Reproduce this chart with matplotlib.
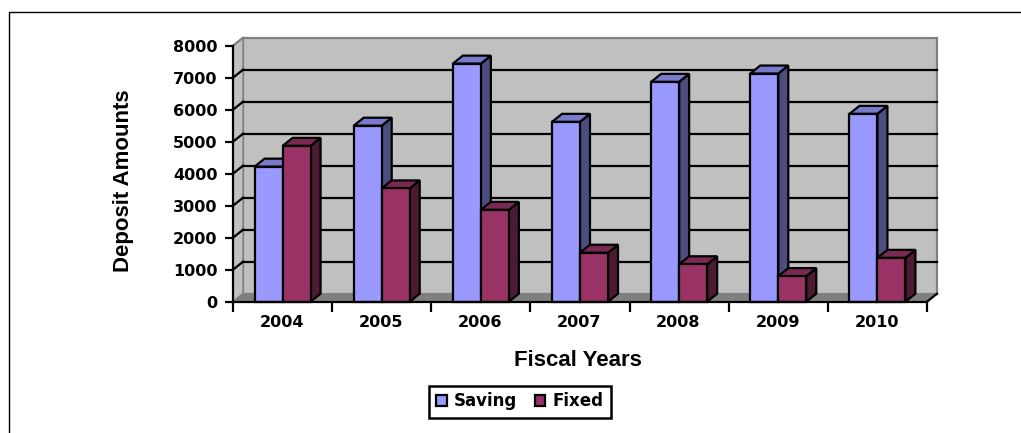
import matplotlib
matplotlib.use("Agg")
import matplotlib.pyplot as plt
from matplotlib.patches import Polygon, Rectangle
from matplotlib.lines import Line2D

years = ["2004", "2005", "2006", "2007", "2008", "2009", "2010"]
saving = [4220, 5500, 7440, 5620, 6870, 7130, 5870]
fixed = [4870, 3540, 2870, 1530, 1170, 800, 1370]
yticks = [0, 1000, 2000, 3000, 4000, 5000, 6000, 7000, 8000]

W, H = 1021, 433
plt.rcParams['font.family'] = ['Liberation Sans']
plt.rcParams['font.weight'] = 'bold'
fig = plt.figure(figsize=(W / 100, H / 100), dpi=100, facecolor='white')

# page frame: left and top edges only
fig.add_artist(Line2D([8.5 / W, 8.5 / W, 1], [0, 1 - 11.5 / H, 1 - 11.5 / H], color='black', lw=1.0))

L, R, T, B = 233, 927, 45.7, 301.7
ax = fig.add_axes([L / W, 1 - B / H, (R - L) / W, (B - T) / H])
n = len(years)
ax.set_xlim(-0.5, n - 0.5)
ax.set_ylim(0, 8000)
ax.patch.set_visible(False)
for s in ('top', 'right'):
    ax.spines[s].set_visible(False)
for s in ('left', 'bottom'):
    ax.spines[s].set_linewidth(1.6)
    ax.spines[s].set_zorder(6)

xpx = n / (R - L)
ypx = 8000 / (B - T)
dx, dy = 10 * xpx, 8 * ypx
wall_xr = n - 0.5
x0 = -0.5
LW = 1.6


def add(poly, fc, ec='black', lw=LW, z=2):
    ax.add_patch(Polygon(poly, closed=True, fc=fc, ec=ec, lw=lw, zorder=z, clip_on=False, joinstyle='miter'))


# back wall, left wall, floor
add([(x0 + dx, dy), (wall_xr + dx, dy), (wall_xr + dx, 8000 + dy), (x0 + dx, 8000 + dy)], '#C0C0C0', '#808080', 1.6, 1)
add([(x0, 0), (x0 + dx, dy), (x0 + dx, 8000 + dy), (x0, 8000)], '#C0C0C0', '#808080', 1.0, 1)
add([(x0, 0), (wall_xr, 0), (wall_xr + dx, dy), (x0 + dx, dy)], '#808080', '#808080', 0.8, 1.1)

# gridlines on the wall, with the diagonal joins at the front
for t in yticks[1:-1]:
    ax.plot([x0 + dx, wall_xr + dx], [t + dy, t + dy], color='black', lw=LW, zorder=1.5, clip_on=False)
for t in yticks[1:-1]:
    ax.plot([x0, x0 + dx], [t, t + dy], color='black', lw=LW, zorder=1.5, clip_on=False)
ax.plot([x0, x0 + dx], [8000, 8000 + dy], color='#808080', lw=LW, zorder=1.5, clip_on=False)
ax.plot([wall_xr, wall_xr + dx], [0, dy], color='black', lw=LW, zorder=1.6, clip_on=False)
ax.plot([x0, x0 + dx], [0, dy], color='#808080', lw=1.0, zorder=1.6, clip_on=False)

bw = 28 / (R - L) * n


def bar3d(xl, v, front, top, side, z=3):
    xr = xl + bw
    add([(xr, 0), (xr + dx, dy), (xr + dx, v + dy), (xr, v)], side, z=z)
    add([(xl, v), (xr, v), (xr + dx, v + dy), (xl + dx, v + dy)], top, z=z)
    ax.bar(xl, v, width=bw, align='edge', color=front, edgecolor='black', linewidth=LW, zorder=z + 0.05, clip_on=False)


for i in range(n):
    bar3d(i - bw, saving[i], '#9999FF', '#7A7ACC', '#4D4D80', z=3 + i * 0.1)
for i in range(n):
    bar3d(i, fixed[i], '#993366', '#7A2952', '#4D1A33', z=4 + i * 0.1)

ax.set_yticks(yticks)
ax.set_yticklabels([str(t) for t in yticks], fontsize=11.5, fontweight='bold', family='DejaVu Sans')
ax.set_xticks([i - 0.5 for i in range(n + 1)])
ax.set_xticklabels([""] * (n + 1))
ax.tick_params(axis='both', length=6, width=1.6, color='black')
ax.tick_params(axis='x', pad=4, length=7)
ax.tick_params(axis='y', pad=5)
for i, yr in enumerate(years):
    ax.annotate(yr, (i, 0), xytext=(-0.5, -15), textcoords='offset points', ha='center', va='center',
                fontsize=11.5, fontweight='bold', family='DejaVu Sans', annotation_clip=False)

fig.text(578 / W, 1 - 361 / H, "Fiscal Years", ha='center', va='center', fontsize=16, fontweight='bold')
fig.text(124 / W, 1 - 180.5 / H, "Deposit Amounts", rotation=90, ha='center', va='center', fontsize=16, fontweight='bold')

handles = [Rectangle((0, 0), 1, 1, fc='#9999FF', ec='black', lw=1.6),
           Rectangle((0, 0), 1, 1, fc='#993366', ec='black', lw=1.6)]
leg = fig.legend(handles, ["Saving", "Fixed"], ncol=2, loc='center', bbox_to_anchor=(520 / W, 1 - 401.5 / H),
                 frameon=True, fancybox=False, edgecolor='black', facecolor='white', framealpha=1,
                 prop={'family': 'DejaVu Sans', 'weight': 'bold', 'size': 12},
                 handlelength=0.62, handleheight=0.62, handletextpad=0.45, columnspacing=1.05, borderpad=0.42, borderaxespad=0)
leg.get_frame().set_linewidth(1.8)

fig.savefig("out.png", dpi=100)
